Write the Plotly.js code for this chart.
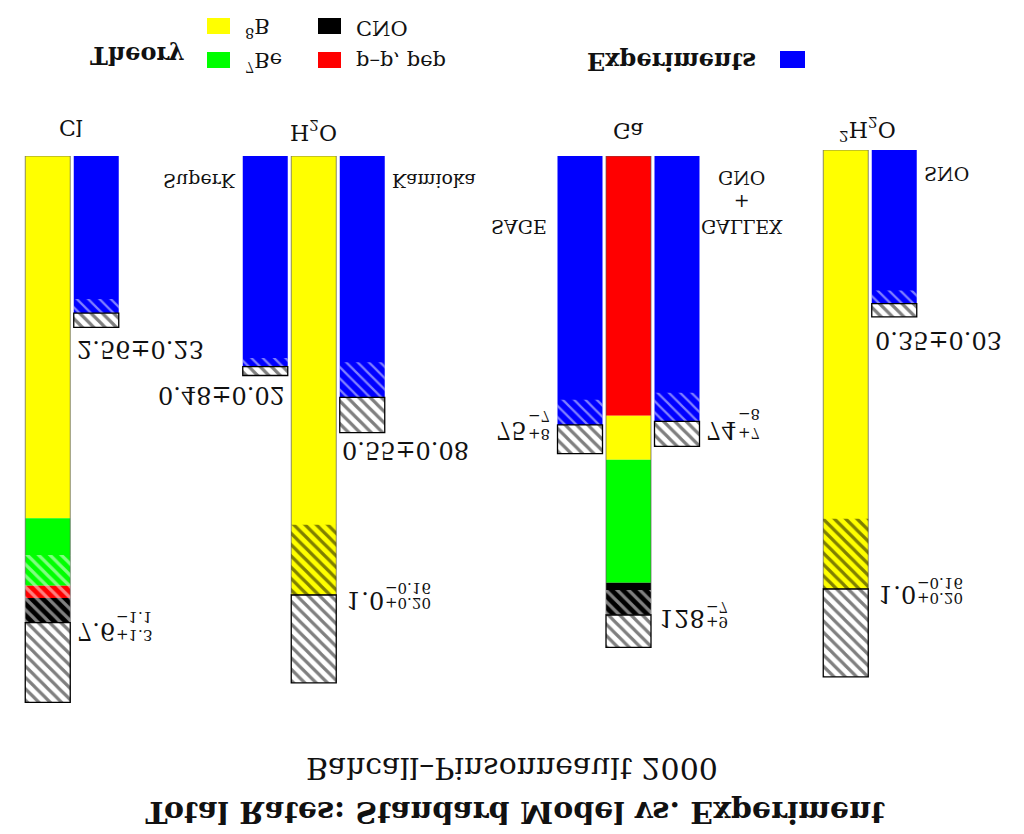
<!DOCTYPE html>
<html>
<head>
<meta charset="utf-8">
<script src="https://cdn.plot.ly/plotly-3.0.1.min.js"></script>
<style>
html, body { margin: 0; padding: 0; background: #fff; overflow: hidden; }
#chart { width: 1024px; height: 834px; transform: scaleY(-1); }
</style>
</head>
<body>
<div id="chart"></div>
<script>
// ---------------- DATA ----------------
const detectors = ['Cl', 'H2O', 'Ga', 'D2O'];
const detectorLabels = ['Cl', 'H<sub>2</sub>O', 'Ga', '<sup>2</sup>H<sub>2</sub>O'];

// theory contributions, stacked in the order given (SNU for Cl & Ga, ratio to SSM for water)
const clSources = ['8B', '7Be', 'pp', 'CNO'];
const clValues = [5.9, 1.1, 0.2, 0.4];
const h2oSources = ['8B'];
const h2oValues = [1.0];
const gaSources = ['pp', '8B', '7Be', 'CNO'];
const gaValues = [72.4, 12.3, 34.3, 9.0];
const d2oSources = ['8B'];
const d2oValues = [1.0];

const theoryErrPlus = [1.3, 0.20, 9, 0.20];
const theoryErrMinus = [1.1, 0.16, 7, 0.16];

// experiments
const expNames = ['Homestake', 'SuperK', 'Kamioka', 'SAGE', 'GALLEX+GNO', 'SNO'];
const expDetector = ['Cl', 'H2O', 'H2O', 'Ga', 'Ga', 'D2O'];
const expValues = [2.56, 0.48, 0.55, 75, 74, 0.35];
const expErrPlus = [0.23, 0.02, 0.08, 8, 7, 0.03];
const expErrMinus = [0.23, 0.02, 0.08, 7, 8, 0.03];

// legend texts
const sourceNames = { '8B': '<sup>8</sup>B', '7Be': '<sup>7</sup>Be', 'CNO': 'CNO', 'pp': 'p–p, pep' };
const titleText = 'Total Rates: Standard Model vs. Experiment';
const subtitleText = 'Bahcall–Pinsonneault 2000';

// ---------------- LAYOUT / STYLE ----------------
const W = 1024, H = 834;
const FONT = 'DejaVu Serif';
const px = v => v / W;           // horizontal pixel -> paper
const py = v => v / H;           // pixel from top in the displayed picture -> paper

const colors = { '8B': '#ffff00', '7Be': '#00ff00', 'pp': '#ff0000', 'CNO': '#000000', exp: '#0000ff' };
const slot = 48.5;
const barW = 0.928;
const colCenter = [72, 313.75, 628.5, 870];
const colBase = [156, 156, 156, 150];
const colScale = [61.4, 439, 3.586, 439];   // px per unit
const colCats = [
  ['Theory', 'Homestake'],
  ['SuperK', 'Theory', 'Kamioka'],
  ['SAGE', 'Theory', 'GALLEX+GNO'],
  ['Theory', 'SNO']
];
const theoryHatchColor = ['white', 'black', 'white', 'black'];
const valDecimals = [1, 1, 0, 1];
const errDecimals = [1, 2, 0, 2];
const theorySources = [clSources, h2oSources, gaSources, d2oSources];
const theoryValues = [clValues, h2oValues, gaValues, d2oValues];

const hatch = (fg, bg, sol) => ({ shape: '/', fgcolor: fg, bgcolor: bg, size: 8, solidity: sol, fillmode: 'overlay' });

const traces = [];
const axis = i => (i === 0 ? '' : String(i + 1));

function bar(i, cat, base, h, marker) {
  traces.push({
    type: 'bar', x: [cat], y: [h], base: [base], width: [barW],
    xaxis: 'x' + axis(i), yaxis: 'y' + axis(i),
    marker: marker, hoverinfo: 'skip', showlegend: false
  });
}

const theoryTotals = [];
detectors.forEach((d, i) => {
  let cum = 0;
  theorySources[i].forEach((s, j) => {
    bar(i, 'Theory', cum, theoryValues[i][j], { color: colors[s], line: { width: 0 } });
    cum += theoryValues[i][j];
  });
  theoryTotals.push(cum);
  // thin outline
  bar(i, 'Theory', 0, cum, { color: 'rgba(0,0,0,0)', line: { color: 'rgba(90,90,90,0.7)', width: 1 } });
  // hatch over the colours (minus error)
  bar(i, 'Theory', cum - theoryErrMinus[i], theoryErrMinus[i],
      { color: 'rgba(0,0,0,0)', line: { width: 0 }, pattern: hatch(theoryHatchColor[i], 'rgba(0,0,0,0)', 0.4) });
  // hatched box (plus error)
  bar(i, 'Theory', cum, theoryErrPlus[i],
      { color: 'white', line: { color: '#000', width: 1.3 }, pattern: hatch('#000', 'white', 0.4) });
});

expNames.forEach((n, k) => {
  const i = detectors.indexOf(expDetector[k]);
  bar(i, n, 0, expValues[k], { color: colors.exp, line: { width: 0 } });
  bar(i, n, expValues[k] - expErrMinus[k], expErrMinus[k],
      { color: 'rgba(0,0,0,0)', line: { width: 0 }, pattern: hatch('white', 'rgba(0,0,0,0)', 0.28) });
  bar(i, n, expValues[k], expErrPlus[k],
      { color: 'white', line: { color: '#000', width: 1.3 }, pattern: hatch('#000', 'white', 0.4) });
});

const layout = {
  width: W, height: H,
  margin: { l: 0, r: 0, t: 0, b: 0, pad: 0 },
  paper_bgcolor: 'white', plot_bgcolor: 'rgba(0,0,0,0)',
  barmode: 'overlay', showlegend: false,
  font: { family: FONT, color: '#111' },
  title: {
    text: '<b>' + titleText + '</b>', x: px(515), xanchor: 'center',
    y: py(812), yanchor: 'middle', yref: 'container',
    font: { family: FONT, size: 30, color: '#111' }
  },
  shapes: [], annotations: []
};

detectors.forEach((d, i) => {
  const n = colCats[i].length;
  layout['xaxis' + axis(i)] = {
    domain: [px(colCenter[i] - n * slot / 2), px(colCenter[i] + n * slot / 2)],
    type: 'category', categoryorder: 'array', categoryarray: colCats[i],
    range: [-0.5, n - 0.5], visible: false, fixedrange: true,
    anchor: 'y' + axis(i)
  };
  layout['yaxis' + axis(i)] = {
    domain: [py(colBase[i]), 1],
    range: [0, (H - colBase[i]) / colScale[i]], visible: false, fixedrange: true,
    anchor: 'x' + axis(i)
  };
});

const A = layout.annotations;
function txt(text, x, y, size, xanchor, extra) {
  A.push(Object.assign({
    text: text, x: px(x), y: py(y), xref: 'paper', yref: 'paper',
    xanchor: xanchor || 'center', yanchor: 'middle', showarrow: false,
    font: { family: FONT, size: size, color: '#111' }
  }, extra || {}));
}

// subtitle
txt(subtitleText, 512, 768, 30, 'center');

// legend
const legendSw = [
  ['8B', 207, 18], ['7Be', 207, 52], ['CNO', 318, 18], ['pp', 318, 52]
];
legendSw.forEach(([s, x, y]) => {
  layout.shapes.push({ type: 'rect', xref: 'paper', yref: 'paper',
    x0: px(x), x1: px(x + 23), y0: py(y), y1: py(y + 16),
    fillcolor: colors[s], line: { width: 0 } });
  txt(sourceNames[s], x + 36, y + 10, 21, 'left');
});
layout.shapes.push({ type: 'rect', xref: 'paper', yref: 'paper',
  x0: px(780), x1: px(805), y0: py(51), y1: py(68),
  fillcolor: colors.exp, line: { width: 0 } });
txt('<b>Theory</b>', 186, 56, 24, 'right');
txt('<b>Experiments</b>', 758, 62, 24, 'right');

// column labels
const colLabelPos = [[71, 128], [313, 131], [628, 131], [867, 129]];
detectorLabels.forEach((t, i) => txt(t, colLabelPos[i][0], colLabelPos[i][1], 22, 'center'));

// experiment names
txt('SuperK', 238, 181, 19, 'right');
txt('Kamioka', 390, 181, 19, 'left');
txt('SAGE', 549, 227, 19, 'right');
txt('GALLEX<br>+<br>GNO', 742, 203, 19, 'center');
txt('SNO', 922, 174, 19, 'left');

// value labels: symmetric errors
const fmtPM = k => expValues[k].toFixed(2) + '±' + expErrPlus[k].toFixed(2);
txt(fmtPM(0), 75, 349, 24, 'left');
txt(fmtPM(1), 287, 395, 24, 'right');
txt(fmtPM(2), 340, 450, 24, 'left');
txt(fmtPM(5), 873, 340, 24, 'left');

// value labels with stacked scripts (script column placed right after the main text)
const ctx = document.createElement('canvas').getContext('2d');
function textWidth(t, size) { ctx.font = size + 'px "' + FONT + '"'; return ctx.measureText(t).width; }
function scripted(main, plus, minus, left, yMain, ySup, ySub) {
  const mainSize = 24, scrSize = 15;
  const w = textWidth(main, mainSize);
  txt(main, left, yMain, mainSize, 'left');
  txt('+' + plus, left + w + 1, ySup, scrSize, 'left');
  txt('−' + minus, left + w + 1, ySub, scrSize, 'left');
}
const thPos = [[75, 631, 635, 617], [344, 600, 603, 588], [657, 618, 622, 607], [876, 594, 598, 583]];
detectors.forEach((d, i) => {
  const p = thPos[i];
  scripted(theoryTotals[i].toFixed(valDecimals[i]),
           theoryErrPlus[i].toFixed(errDecimals[i]),
           theoryErrMinus[i].toFixed(errDecimals[i]), p[0], p[1], p[2], p[3]);
});
scripted(String(expValues[3]), String(expErrPlus[3]), String(expErrMinus[3]), 494, 430, 434, 416);
scripted(String(expValues[4]), String(expErrPlus[4]), String(expErrMinus[4]), 704, 430, 433, 414);

Plotly.newPlot('chart', traces, layout, { staticPlot: true, displayModeBar: false });
</script>
</body>
</html>
